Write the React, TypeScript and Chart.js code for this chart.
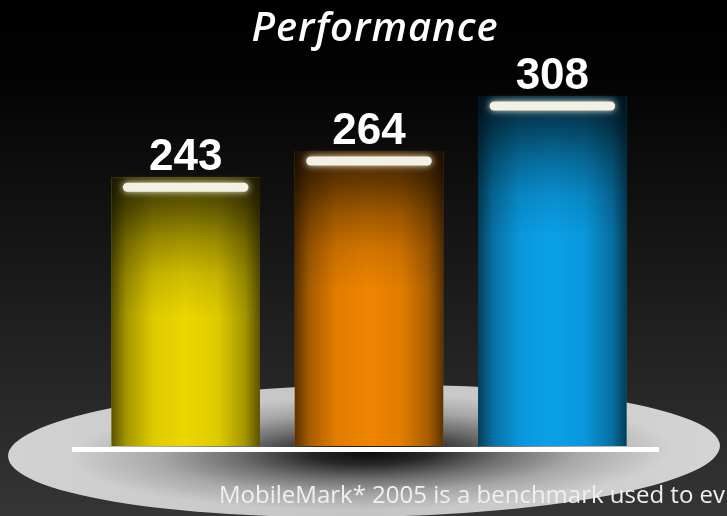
import React, { useEffect, useRef } from "react";
import { Chart, registerables } from "chart.js";

Chart.register(...registerables);

const categories = ["Bar 1", "Bar 2", "Bar 3"];
const values = [243, 264, 308];
const barColors = ["#ecd600", "#ef8400", "#0aa0e8"];
const chartTitle = "Performance";
const footnote = "MobileMark* 2005 is a benchmark used to ev";

const W = 727;
const H = 516;

const decorPlugin = {
  id: "decor",
  beforeDraw(chart: any) {
    const ctx = chart.ctx as CanvasRenderingContext2D;
    ctx.save();
    const bg = ctx.createLinearGradient(0, 0, 0, H);
    bg.addColorStop(0, "#000000");
    bg.addColorStop(0.15, "#030303");
    bg.addColorStop(1, "#353535");
    ctx.fillStyle = bg;
    ctx.fillRect(0, 0, W, H);

    const cx = 364;
    const cy = 451;
    ctx.save();
    ctx.translate(cx, cy);
    ctx.rotate(-0.015);
    ctx.beginPath();
    ctx.ellipse(0, 0, 356, 66, 0, 0, Math.PI * 2);
    ctx.closePath();
    const pg = ctx.createLinearGradient(-356, 0, 356, 0);
    pg.addColorStop(0, "#d2d2d2");
    pg.addColorStop(0.5, "#c4c4c4");
    pg.addColorStop(1, "#d4d4d4");
    ctx.fillStyle = pg;
    ctx.fill();
    ctx.clip();
    ctx.translate(6, 2);
    ctx.scale(1, 0.19);
    const sg = ctx.createRadialGradient(0, 0, 0, 0, 0, 300);
    sg.addColorStop(0, "rgba(0,0,0,0.94)");
    sg.addColorStop(0.2, "rgba(0,0,0,0.8)");
    sg.addColorStop(0.45, "rgba(0,0,0,0.45)");
    sg.addColorStop(0.7, "rgba(0,0,0,0.18)");
    sg.addColorStop(1, "rgba(0,0,0,0)");
    ctx.fillStyle = sg;
    ctx.fillRect(-400, -400, 800, 800);
    ctx.restore();
    ctx.restore();
  },
  afterDatasetsDraw(chart: any) {
    const ctx = chart.ctx as CanvasRenderingContext2D;
    const meta = chart.getDatasetMeta(0);
    const bottom = chart.chartArea.bottom;
    meta.data.forEach((el: any, i: number) => {
      const { x, y, base, width } = el.getProps(["x", "y", "base", "width"], true);
      const left = x - width / 2;
      const right = x + width / 2;
      const h = Math.min(base, bottom) - y;
      ctx.save();
      const hg = ctx.createLinearGradient(left, 0, right, 0);
      hg.addColorStop(0, "rgba(0,0,0,0.62)");
      hg.addColorStop(0.1, "rgba(0,0,0,0.3)");
      hg.addColorStop(0.28, "rgba(0,0,0,0.06)");
      hg.addColorStop(0.5, "rgba(0,0,0,0)");
      hg.addColorStop(0.72, "rgba(0,0,0,0.06)");
      hg.addColorStop(0.9, "rgba(0,0,0,0.3)");
      hg.addColorStop(1, "rgba(0,0,0,0.62)");
      ctx.fillStyle = hg;
      ctx.fillRect(left, y, width, h);
      const dl = Math.min(140, h);
      const vg = ctx.createLinearGradient(0, y, 0, y + dl);
      vg.addColorStop(0, "rgba(0,0,0,0.72)");
      vg.addColorStop(0.2, "rgba(0,0,0,0.58)");
      vg.addColorStop(0.45, "rgba(0,0,0,0.32)");
      vg.addColorStop(0.7, "rgba(0,0,0,0.12)");
      vg.addColorStop(1, "rgba(0,0,0,0)");
      ctx.fillStyle = vg;
      ctx.fillRect(left, y, width, dl);
      ctx.shadowColor = "rgba(255,255,235,0.9)";
      ctx.shadowBlur = 7;
      ctx.strokeStyle = "#f3f1e4";
      ctx.lineWidth = 9;
      ctx.lineCap = "round";
      ctx.beginPath();
      ctx.moveTo(left + 16, y + 10);
      ctx.lineTo(right - 16, y + 10);
      ctx.stroke();
      ctx.restore();

      ctx.save();
      ctx.fillStyle = "#ffffff";
      ctx.font = "bold 44px 'Liberation Sans', Arial, sans-serif";
      ctx.textAlign = "center";
      ctx.textBaseline = "alphabetic";
      ctx.fillText(String(values[i]), x, y - 7);
      ctx.restore();
    });

    ctx.save();
    ctx.fillStyle = "#ffffff";
    ctx.fillRect(72, bottom + 1, 587, 5);
    ctx.restore();

    ctx.save();
    ctx.fillStyle = "#ffffff";
    ctx.font = "italic 600 40px 'Open Sans', sans-serif";
    (ctx as any).letterSpacing = "1px";
    ctx.textAlign = "center";
    ctx.textBaseline = "alphabetic";
    ctx.fillText(chartTitle, 375, 41);
    ctx.restore();

    ctx.save();
    ctx.fillStyle = "#f0f0f0";
    ctx.font = "24px 'Open Sans', sans-serif";
    ctx.textAlign = "left";
    ctx.textBaseline = "alphabetic";
    ctx.fillText(footnote, 219, 503);
    ctx.restore();
  },
};

export default function App() {
  const ref = useRef<HTMLCanvasElement | null>(null);
  useEffect(() => {
    if (!ref.current) return;
    const chart = new Chart(ref.current, {
      type: "bar",
      data: {
        labels: categories,
        datasets: [
          {
            data: values,
            backgroundColor: barColors,
            borderWidth: 0,
            barPercentage: 0.81,
            categoryPercentage: 1,
          },
        ],
      },
      options: {
        animation: false,
        responsive: false,
        devicePixelRatio: 1,
        layout: { padding: { left: 94, right: 83, top: 40, bottom: 70 } },
        scales: {
          x: { display: false },
          y: { display: false, min: 28, max: 352.8 },
        },
        plugins: {
          legend: { display: false },
          title: { display: false },
          tooltip: { enabled: false },
        },
      },
      plugins: [decorPlugin],
    });
    return () => chart.destroy();
  }, []);
  return (
    <div style={{ position: "absolute", left: 0, top: 0, width: W, height: H }}>
      <canvas ref={ref} width={W} height={H} style={{ display: "block" }} />
    </div>
  );
}
